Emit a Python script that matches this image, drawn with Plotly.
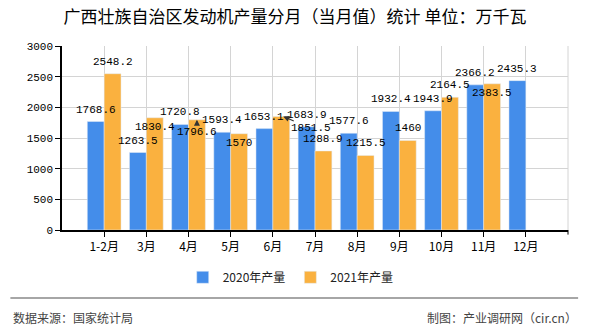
import plotly.graph_objects as go

months = ["1-2月", "3月", "4月", "5月", "6月", "7月", "8月", "9月", "10月", "11月", "12月"]
prod_2020 = [1768.6, 1263.5, 1720.8, 1593.4, 1653.1, 1683.9, 1577.6, 1932.4, 1943.9, 2366.2, 2435.3]
prod_2021 = [2548.2, 1830.4, 1796.6, 1570, 1851.5, 1288.9, 1215.5, 1460, 2164.5, 2383.5, None]
y_ticks = [0, 500, 1000, 1500, 2000, 2500, 3000]

title = "广西壮族自治区发动机产量分月（当月值）统计 单位：万千瓦"
source = "数据来源：国家统计局"
maker = "制图：产业调研网（cir.cn）"

CJK = "Noto Sans CJK SC"
MONO = "Liberation Mono, " + CJK

W, H = 590, 330
ML, MR, MT, MB = 62, 22, 46, 100
BARGAP = 0.2
n_slots = 12  # x range [-1, 11]
cat_px = (W - ML - MR) / n_slots
bar_px = cat_px * (1 - BARGAP) / 2

# label placement tweaks (label-overlap layout, pixels): (dx, dy below default, arrow)
label_moves = {
    (1, "3月"): (0, 21, False),
    (1, "4月"): (0, 24, True),
    (1, "5月"): (0, 21, False),
    (1, "6月"): (30, 24, True),
    (1, "11月"): (0, 21, False),
}

def fmt(v):
    return "%g" % v

fig = go.Figure()
fig.add_trace(go.Bar(name="2020年产量", x=months, y=prod_2020, marker_color="#448DEA",
                     hoverinfo="skip"))
fig.add_trace(go.Bar(name="2021年产量", x=months, y=prod_2021, marker_color="#FAB13F",
                     hoverinfo="skip"))

annotations = []
for s, series in enumerate([prod_2020, prod_2021]):
    side = -1 if s == 0 else 1
    for m, v in zip(months, series):
        if v is None:
            continue
        dx, dy, arrow = label_moves.get((s, m), (0, 0, False))
        xs = side * bar_px / 2
        if arrow:
            annotations.append(dict(
                x=m, y=v, xref="x", yref="y", xshift=xs + (2 if dx else 0),
                text=fmt(v), showarrow=True, ax=dx - (2 if dx else 0), ay=dy - 12,
                arrowhead=2, arrowsize=1, arrowwidth=1.2, arrowcolor="#333333",
                standoff=0, startstandoff=0,
                font=dict(family=MONO, size=11, color="#000000")))
        else:
            annotations.append(dict(
                x=m, y=v, xref="x", yref="y", xshift=xs + dx, yshift=12 - dy,
                xanchor="center", yanchor="middle",
                text=fmt(v), showarrow=False,
                font=dict(family=MONO, size=11, color="#000000")))

annotations += [
    dict(text=source, xref="paper", yref="paper", x=-0.1, xanchor="left",
         y=-0.475, yanchor="middle", showarrow=False,
         font=dict(family=CJK, size=12, color="#444444")),
    dict(text=maker, xref="paper", yref="paper", x=1.022, xanchor="right",
         y=-0.475, yanchor="middle", showarrow=False,
         font=dict(family=CJK, size=12, color="#444444")),
]

fig.update_layout(
    width=W, height=H,
    margin=dict(l=ML, r=MR, t=MT, b=MB),
    paper_bgcolor="white", plot_bgcolor="white",
    barmode="group", bargap=BARGAP, bargroupgap=0,
    font=dict(family=CJK, size=12, color="#000000"),
    title=dict(text=title, x=0.5, xanchor="center", y=0.948, yanchor="middle",
               font=dict(family=CJK, size=17, color="#000000")),
    showlegend=True,
    legend=dict(orientation="h", x=0.452, xanchor="center", y=-0.257, yanchor="middle",
                font=dict(family=CJK, size=12, color="#222222"), itemwidth=30,
                traceorder="normal"),
    xaxis=dict(
        type="category", range=[-1, 11], showgrid=True, gridcolor="#d4d4d4", gridwidth=1,
        showline=True, linecolor="#000000", linewidth=1.5,
        ticks="outside", ticklen=5, tickcolor="#000000",
        tickfont=dict(family=CJK, size=12, color="#000000"),
    ),
    yaxis=dict(
        range=[0, 3000], tickvals=y_ticks, showgrid=True, gridcolor="#d4d4d4", gridwidth=1,
        showline=True, linecolor="#000000", linewidth=1.5,
        ticks="outside", ticklen=5, tickcolor="#000000",
        tickfont=dict(family=MONO, size=11, color="#000000"),
        zeroline=False,
    ),
    shapes=[
        dict(type="line", xref="paper", yref="paper", x0=1, x1=1, y0=0, y1=1,
             line=dict(color="#d4d4d4", width=1)),
        dict(type="line", xref="paper", yref="paper", x0=1, x1=1, y0=0, y1=-0.025,
             line=dict(color="#000000", width=1)),
        dict(type="line", xref="paper", yref="paper", x0=-0.102, x1=1.02, y0=-0.37, y1=-0.37,
             line=dict(color="#888888", width=1.5)),
    ],
    annotations=annotations,
)

fig.write_html("out.html")
